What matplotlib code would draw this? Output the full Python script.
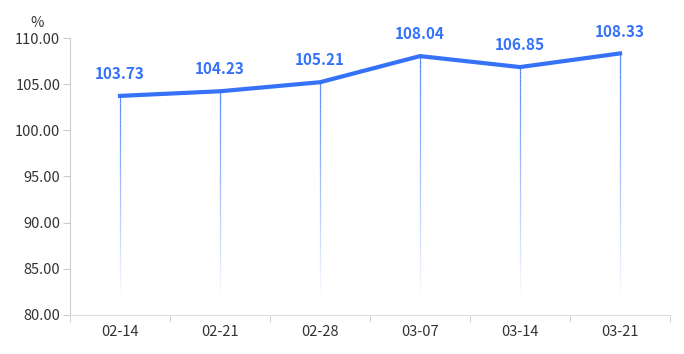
import numpy as np
import matplotlib
matplotlib.use("Agg")
from matplotlib import pyplot as plt
from matplotlib.collections import LineCollection
from matplotlib.colors import to_rgba

plt.rcParams["font.family"] = ["Noto Sans CJK SC", "DejaVu Sans"]

dates = ["02-14", "02-21", "02-28", "03-07", "03-14", "03-21"]
values = [103.73, 104.23, 105.21, 108.04, 106.85, 108.33]
y_ticks = [80, 85, 90, 95, 100, 105, 110]

BLUE = "#3572f7"
AXIS_GRAY = "#cccccc"
TEXT_GRAY = "#333333"

fig = plt.figure(figsize=(6.84, 3.54), dpi=100)
ax = fig.add_axes([70 / 684, 1 - 315 / 354, 600 / 684, 277 / 354])

x = np.arange(len(dates))
ymin, ymax = y_ticks[0], y_ticks[-1]

# vertical drop lines fading out towards the bottom
base = to_rgba(BLUE)
for xi, v in zip(x, values):
    ys = np.linspace(v, ymin + 1.5, 60)
    segs = [[(xi, ys[i]), (xi, ys[i + 1])] for i in range(len(ys) - 1)]
    alphas = np.linspace(0.85, 0.0, len(segs))
    cols = [(base[0], base[1], base[2], a) for a in alphas]
    ax.add_collection(LineCollection(segs, colors=cols, linewidths=0.9,
                                     capstyle="butt", zorder=2))

ax.plot(x, values, color=BLUE, linewidth=3, solid_joinstyle="miter", zorder=3)

for xi, v in zip(x, values):
    ax.annotate(f"{v:.2f}", (xi, v), xytext=(0, 10), textcoords="offset points",
                ha="center", va="bottom", color=BLUE, fontsize=11,
                fontweight="bold")

ax.set_xlim(-0.5, len(dates) - 0.5)
ax.set_ylim(ymin, ymax)
ax.set_yticks(y_ticks)
ax.set_yticklabels([f"{t:.2f}" for t in y_ticks])
ax.set_xticks(x)
ax.set_xticklabels(dates)
ax.set_xticks(np.arange(len(dates) + 1) - 0.5, minor=True)
ax.tick_params(axis="x", which="major", length=0, pad=7, labelsize=10.5,
               labelcolor=TEXT_GRAY)
ax.tick_params(axis="x", which="minor", length=5, color=AXIS_GRAY)
ax.tick_params(axis="y", length=5, color=AXIS_GRAY, labelsize=10.5,
               labelcolor=TEXT_GRAY, pad=2)

for side in ["top", "right"]:
    ax.spines[side].set_visible(False)
ax.spines["left"].set_color(AXIS_GRAY)
ax.spines["bottom"].set_color("#dddddd")

ax.text(-0.055, 1.03, "%", transform=ax.transAxes, ha="center", va="bottom",
        fontsize=10.5, color=TEXT_GRAY)

fig.savefig("out.png", dpi=100)
